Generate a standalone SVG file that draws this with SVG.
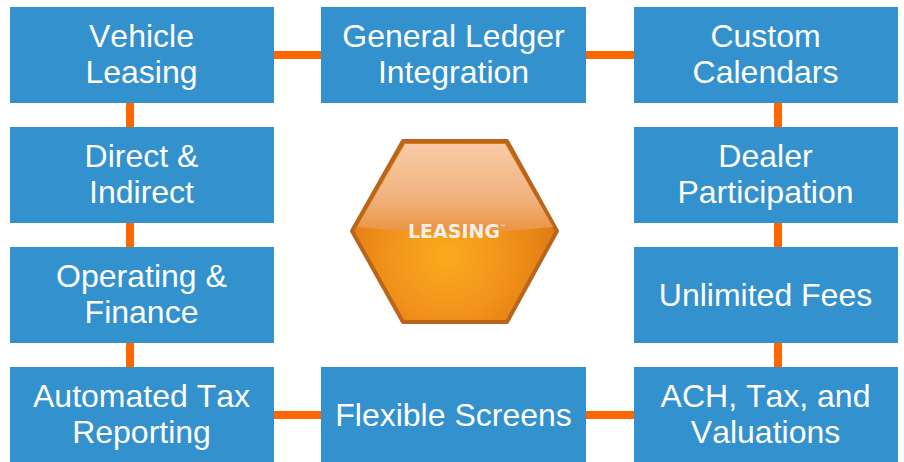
<svg xmlns="http://www.w3.org/2000/svg" width="904" height="462" viewBox="0 0 904 462">
<style>
.box{fill:#3391cd}
.lbl{font-family:"Liberation Sans",Arial,sans-serif;font-size:32px;fill:#fff;text-anchor:middle;font-kerning:none}
.con{stroke:#ff6600;stroke-width:8;fill:none}
</style>
<defs>
<radialGradient id="low" gradientUnits="userSpaceOnUse" cx="447" cy="256" r="115">
<stop offset="0" stop-color="#fbab1c"/><stop offset="0.55" stop-color="#f0911a"/><stop offset="1" stop-color="#dd7a14"/>
</radialGradient>
<linearGradient id="high" gradientUnits="userSpaceOnUse" x1="0" y1="145" x2="0" y2="232">
<stop offset="0" stop-color="#f8cba6"/><stop offset="0.6" stop-color="#f2b27e"/><stop offset="1" stop-color="#ea9440"/>
</linearGradient>
<filter id="soft" x="-5%" y="-5%" width="110%" height="110%"><feGaussianBlur stdDeviation="0.7"/></filter>
</defs>
<rect width="904" height="462" fill="#fff"/>
<g id="connectors" class="con">
<path d="M274 55H321M586 55H634M274 415H321M586 415H634"/>
<path d="M130 103V127M130 223V247M130 343V367M778 103V127M778 223V247M778 343V367"/>
</g>
<g id="vehicle-leasing"><rect class="box" x="10" y="7" width="264" height="96"/><text class="lbl" x="141.5" y="47">Vehicle</text><text class="lbl" x="141.5" y="83">Leasing</text></g>
<g id="general-ledger"><rect class="box" x="321" y="7" width="265" height="96"/><text class="lbl" x="453.5" y="47">General Ledger</text><text class="lbl" x="453.5" y="83">Integration</text></g>
<g id="custom-calendars"><rect class="box" x="634" y="7" width="264" height="96"/><text class="lbl" x="765.5" y="47">Custom</text><text class="lbl" x="765.5" y="83">Calendars</text></g>
<g id="direct-indirect"><rect class="box" x="10" y="127" width="264" height="96"/><text class="lbl" x="141.5" y="167">Direct &amp;</text><text class="lbl" x="141.5" y="203">Indirect</text></g>
<g id="dealer-participation"><rect class="box" x="634" y="127" width="264" height="96"/><text class="lbl" x="765.5" y="167">Dealer</text><text class="lbl" x="765.5" y="203">Participation</text></g>
<g id="operating-finance"><rect class="box" x="10" y="247" width="264" height="96"/><text class="lbl" x="141.5" y="287">Operating &amp;</text><text class="lbl" x="141.5" y="323">Finance</text></g>
<g id="unlimited-fees"><rect class="box" x="634" y="247" width="264" height="96"/><text class="lbl" x="765.5" y="306">Unlimited Fees</text></g>
<g id="automated-tax"><rect class="box" x="10" y="367" width="264" height="96"/><text class="lbl" x="141.5" y="407">Automated Tax</text><text class="lbl" x="141.5" y="443">Reporting</text></g>
<g id="flexible-screens"><rect class="box" x="321" y="367" width="265" height="96"/><text class="lbl" x="453.5" y="426">Flexible Screens</text></g>
<g id="ach-tax"><rect class="box" x="634" y="367" width="264" height="96"/><text class="lbl" x="765.5" y="407">ACH, Tax, and</text><text class="lbl" x="765.5" y="443">Valuations</text></g>
<g id="leasing-hexagon">
<g filter="url(#soft)">
<polygon points="403,141 507,141 557,231 507,322 403,322 352,231" fill="url(#low)" stroke="#b9651c" stroke-width="4" stroke-linejoin="round"/>
<path d="M405 144H505L553 227Q455 238 357 227Z" fill="url(#high)"/>
</g>
<text x="408" y="238" font-family="'DejaVu Sans',Verdana,sans-serif" font-size="19" font-weight="bold" fill="#f3eee6">LEASING<tspan font-size="6" dy="-9">™</tspan></text>
</g>
</svg>
